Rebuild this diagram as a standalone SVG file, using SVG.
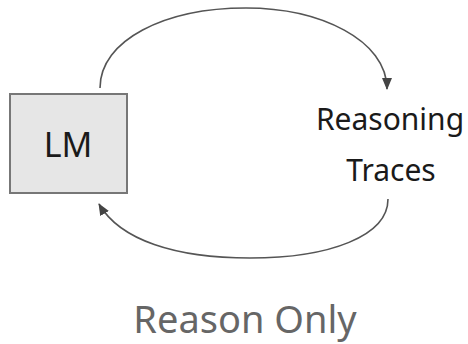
<svg xmlns="http://www.w3.org/2000/svg" width="468" height="344" viewBox="0 0 468 344">
<style>
.lbl{font-family:"Noto Sans","Open Sans","DejaVu Sans",sans-serif;fill:#1a1a1a;text-anchor:middle}
.edge{fill:none;stroke:#555;stroke-width:1.6}
</style>
<defs>
<marker id="ah" markerWidth="12" markerHeight="10" refX="11" refY="5" orient="auto" markerUnits="userSpaceOnUse">
<path d="M0,0 L12,5 L0,10 Z" fill="#444"/>
</marker>
</defs>
<rect width="468" height="344" fill="#ffffff"/>
<g id="connectors">
<path class="edge" d="M100,88 C100,40 165,8 246,8 C320,8 387,40 387,89" marker-end="url(#ah)"/>
<path class="edge" d="M388,199 C388,236 330,258 250,258 C175,258 120,240 99,204" marker-end="url(#ah)"/>
</g>
<g id="lm">
<rect x="10" y="94" width="117" height="99" fill="#e6e6e6" stroke="#777" stroke-width="2"/>
<text class="lbl" x="68" y="157" font-size="34">LM</text>
</g>
<g id="traces">
<text class="lbl" x="390" y="130" font-size="30">Reasoning</text>
<text class="lbl" x="391" y="181" font-size="30">Traces</text>
</g>
<text class="lbl" x="245" y="333" font-size="38" style="fill:#666">Reason Only</text>
</svg>
